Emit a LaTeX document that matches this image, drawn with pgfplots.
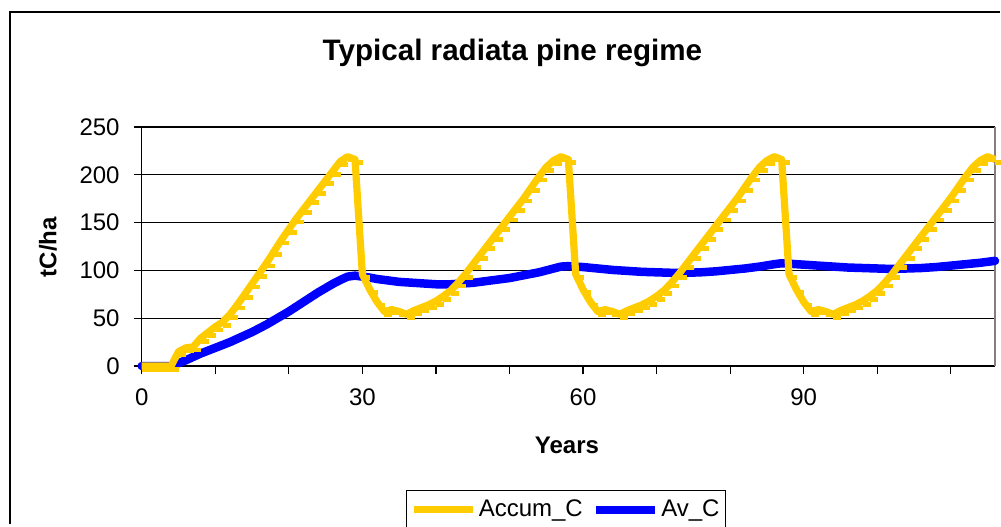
\documentclass[border=0pt]{standalone}
\usepackage{fontspec}
\setmainfont{Liberation Sans}
\usepackage{pgfplots}
\pgfplotsset{compat=1.18}
\usepackage{pgfplotstable}
\definecolor{accumc}{HTML}{FFCC00}
\definecolor{avc}{HTML}{0000FF}

% Accum_C (one point per year)
\pgfplotstableread{
year val
0 0
1 0
2 0
3 0
4 0
5 15
6 19
7 20
8 29
9 35
10 41
11 46
12 54
13 64
14 75
15 86
16 97
17 108
18 120
19 132
20 143
21 154
22 164
23 174
24 184
25 194
26 204
27 214
28 219
29 216
30 96
31 80
32 67
33 57
34 59
35 57
36 54
37 58
38 61
39 64
40 68
41 73
42 79
43 87
44 96
45 106
46 116
47 126
48 136
49 146
50 156
51 166
52 176
53 187
54 198
55 208
56 215
57 219
58 216
59 96
60 80
61 67
62 57
63 59
64 57
65 54
66 58
67 61
68 64
69 68
70 73
71 79
72 87
73 96
74 106
75 116
76 126
77 136
78 146
79 156
80 166
81 176
82 187
83 198
84 208
85 215
86 219
87 216
88 96
89 80
90 67
91 57
92 59
93 57
94 54
95 58
96 61
97 64
98 68
99 73
100 79
101 87
102 96
103 106
104 116
105 126
106 136
107 146
108 156
109 166
110 176
111 187
112 198
113 208
114 215
115 219
116 216
}\accumtable

% Av_C
\pgfplotstableread{
year val
0 0
4 0
5 3
6 6
7 9.5
8 13
9 16
10 19
11 22
12 25
13 28.5
14 32
15 35.5
16 39.5
17 43.5
18 48
19 52.5
20 57
21 62
22 67
23 72
24 77
25 81.5
26 86
27 90
28 93.5
29 94.5
30 93.5
31 92.5
32 91
33 90
34 89
35 88
36 87.5
37 87
38 86.5
39 86
40 85.5
41 85.5
42 85.5
43 86
44 86.5
45 87
46 88
47 89
48 90
49 91
50 92
51 93.5
52 95
53 96.5
54 98
55 100
56 102
57 104
58 104.5
59 104
60 103.5
62 102
64 100.5
66 99.5
68 98.5
70 98
72 97.5
74 97.5
76 98
78 99
80 100.5
82 102
84 104
86 106.5
87 107.5
88 107
90 106
92 105
94 104
96 103
98 102.5
100 102
102 101.5
104 102
106 102.5
108 103.5
110 105
112 106.5
114 108
116 110
}\avtable

\begin{document}
\begin{tikzpicture}
\useasboundingbox (-70.85pt,-80pt) rectangle (429.65pt,183pt);
% chart area border (right and bottom edges fall outside the picture)
\draw[line width=0.75pt] (-65.85pt,-79pt) -- (-65.85pt,177pt) -- (429pt,177pt);
\begin{axis}[
    scale only axis,
    width=426.65pt, height=119.5pt,
    xmin=0, xmax=116,
    ymin=0, ymax=250,
    clip=false,
    axis x line*=bottom,
    axis y line*=left,
    axis line style={black, line width=0.6pt},
    xtick={0,10,...,110},
    xticklabels={0,,,30,,,60,,,90,,},
    ytick={0,50,...,250},
    tick align=outside,
    major tick length=4pt,
    tick style={black, line width=0.6pt},
    ymajorgrids,
    major grid style={black, line width=0.6pt},
    /pgf/number format/assume math mode=true,
    tick label style={font=\fontsize{12}{14}\selectfont, inner sep=0pt},
    xticklabel style={anchor=north, yshift=-7.1pt},
    yticklabel style={anchor=east, xshift=-6.85pt},
    title={Typical radiata pine regime},
    title style={font=\fontsize{14.8}{17}\selectfont\bfseries,
        at={(axis description cs:0.4345,1.2272)}, anchor=base},
    xlabel={Years},
    xlabel style={font=\fontsize{12}{14}\selectfont\bfseries,
        at={(axis description cs:0.4984,-0.3653)}, anchor=base},
    ylabel={tC/ha},
    ylabel style={font=\fontsize{12}{14}\selectfont\bfseries,
        at={(axis description cs:-0.1,0.4979)}, anchor=base},
    legend columns=2,
    legend style={at={(axis description cs:0.3097,-0.5188)}, anchor=north west,
        draw=black, line width=0.6pt,
        inner xsep=1.75pt, inner ysep=3.45pt,
        font=\fontsize{12}{14}\selectfont,
        nodes={inner sep=1.25pt},
        /tikz/every even column/.append style={column sep=3pt}},
    legend image code/.code={\draw[#1] (0pt,0pt) -- (29.5pt,0pt);},
]
\draw[gray, line width=0.6pt] (rel axis cs:1,0) -- (rel axis cs:1,1);

\addplot[avc, line width=4.25pt, line cap=round, line join=round, forget plot]
    table[x=year, y=val] {\avtable};

\addplot[accumc, line width=3.6pt, line join=round,
    mark=-, mark size=2pt,
    mark options={solid, line width=2.4pt, xshift=2pt, yshift=-1.6pt}]
    table[x=year, y=val] {\accumtable};
\addlegendentry{Accum\_C}

\addlegendimage{avc, line width=4.25pt}
\addlegendentry{Av\_C}
\end{axis}
\end{tikzpicture}
\end{document}
